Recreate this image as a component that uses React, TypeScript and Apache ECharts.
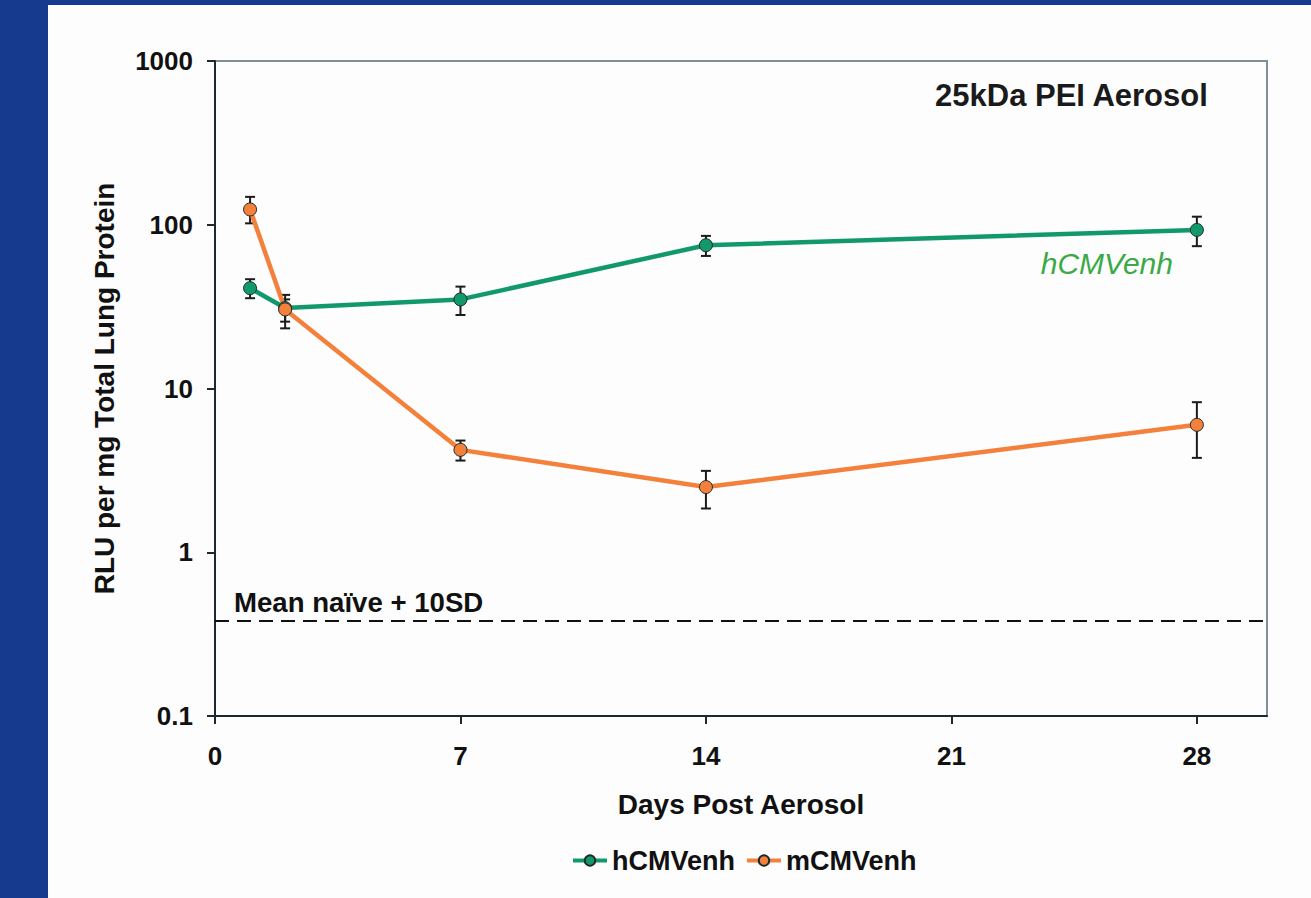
import React, { useEffect, useRef } from "react";
import * as echarts from "echarts";

const days = [1, 2, 7, 14, 28];
const hMean = [41, 31, 35, 75, 93];
const hLow = [35.6, 25.6, 28.1, 64.5, 74];
const hHigh = [46.5, 35, 41.9, 85.5, 112];
const mMean = [124, 30.4, 4.22, 2.5, 6.0];
const mLow = [102, 23.3, 3.63, 1.85, 3.77];
const mHigh = [148, 37.3, 4.81, 3.14, 8.25];
const xTicks = [0, 7, 14, 21, 28];
const yTicks = [0.1, 1, 10, 100, 1000];
const threshold = 0.38;
const seriesNames = ["hCMVenh", "mCMVenh"];

const FONT = "'Liberation Sans', Arial, Helvetica, sans-serif";
const GREEN = "#11996c";
const ORANGE = "#f3813c";
const BLUE = "#163a8d";

export default function App() {
  const ref = useRef<HTMLDivElement>(null);
  useEffect(() => {
    if (!ref.current) return;
    const chart = echarts.init(ref.current, undefined, { renderer: "svg" });
    const errData = (lo: number[], hi: number[]) => days.map((d, i) => [d, lo[i], hi[i]]);
    const errSeries = (name: string, lo: number[], hi: number[]) => ({
      type: "custom",
      name: name + "-err",
      data: errData(lo, hi),
      encode: { x: 0, y: [1, 2] },
      z: 3,
      silent: true,
      renderItem: (params: any, api: any) => {
        const x = api.value(0);
        const p1 = api.coord([x, api.value(1)]);
        const p2 = api.coord([x, api.value(2)]);
        const w = 5;
        const style = { stroke: "#1b1b1b", lineWidth: 2 };
        return {
          type: "group",
          children: [
            { type: "line", shape: { x1: p1[0], y1: p1[1], x2: p2[0], y2: p2[1] }, style },
            { type: "line", shape: { x1: p1[0] - w, y1: p1[1], x2: p1[0] + w, y2: p1[1] }, style },
            { type: "line", shape: { x1: p2[0] - w, y1: p2[1], x2: p2[0] + w, y2: p2[1] }, style },
          ],
        };
      },
    });
    const lineSeries = (name: string, mean: number[], color: string) => ({
      type: "line",
      name,
      data: days.map((d, i) => [d, mean[i]]),
      z: 4,
      symbol: "circle",
      symbolSize: 13,
      lineStyle: { color, width: 4.5 },
      itemStyle: { color, borderColor: "#1e2a2a", borderWidth: 1 },
    });
    chart.setOption({
      animation: false,
      backgroundColor: "#fdfdfe",
      grid: {
        left: 215,
        right: 44,
        top: 61,
        bottom: 182,
        show: true,
        borderColor: "#7d8f98",
        borderWidth: 2,
        backgroundColor: "transparent",
      },
      legend: {
        data: seriesNames,
        top: 842,
        left: 566,
        itemWidth: 34,
        itemHeight: 13,
        itemGap: 10,
        lineStyle: { width: 4 },
        textStyle: { fontFamily: FONT, fontWeight: "bold", fontSize: 27, color: "#111" },
      },
      xAxis: {
        type: "value",
        min: 0,
        max: 30,
        interval: 7,
        name: "Days Post Aerosol",
        nameLocation: "middle",
        nameGap: 74,
        nameTextStyle: { fontFamily: FONT, fontWeight: "bold", fontSize: 28, color: "#111" },
        axisLine: { lineStyle: { color: "#1c2a30", width: 2 } },
        axisTick: { show: true, length: 8, lineStyle: { color: "#1c2a30", width: 2 }, customValues: xTicks },
        axisLabel: {
          customValues: xTicks,
          margin: 27,
          fontFamily: FONT,
          fontWeight: "bold",
          fontSize: 26,
          color: "#111",
        },
        splitLine: { show: false },
      },
      yAxis: {
        type: "log",
        logBase: 10,
        min: 0.1,
        max: 1000,
        name: "RLU per mg Total Lung Protein",
        nameLocation: "middle",
        nameGap: 97,
        nameTextStyle: { fontFamily: FONT, fontWeight: "bold", fontSize: 28, color: "#111" },
        axisLine: { show: true, lineStyle: { color: "#1c2a30", width: 2 } },
        axisTick: { show: true, length: 8, lineStyle: { color: "#1c2a30", width: 2 } },
        axisLabel: {
          margin: 22,
          fontFamily: FONT,
          fontWeight: "bold",
          fontSize: 26,
          color: "#111",
          formatter: (v: number) => {
            const t = yTicks.find((y) => Math.abs(Math.log10(y) - Math.log10(v)) < 1e-6);
            return t === undefined ? "" : String(t);
          },
        },
        splitLine: { show: false },
      },
      graphic: [
        { type: "rect", shape: { x: 0, y: 0, width: 48, height: 898 }, style: { fill: BLUE }, z: 100 },
        { type: "rect", shape: { x: 0, y: 0, width: 1311, height: 5 }, style: { fill: BLUE }, z: 100 },
        {
          type: "text",
          right: 1311 - 1209,
          top: 80,
          style: { text: "25kDa PEI Aerosol", font: `bold 31px ${FONT}`, fill: "#1a1a1a" },
        },
        {
          type: "text",
          x: 1173,
          y: 263,
          style: {
            text: "hCMVenh",
            font: `italic 30px ${FONT}`,
            fill: "#3aaa46",
            textAlign: "right",
            textVerticalAlign: "middle",
          },
        },
        {
          type: "text",
          x: 234,
          y: 602,
          style: {
            text: "Mean naïve + 10SD",
            font: `bold 27.6px ${FONT}`,
            fill: "#111",
            textAlign: "left",
            textVerticalAlign: "middle",
          },
        },
      ],
      series: [
        errSeries("hCMVenh", hLow, hHigh),
        errSeries("mCMVenh", mLow, mHigh),
        {
          ...lineSeries("hCMVenh", hMean, GREEN),
          markLine: {
            silent: true,
            symbol: "none",
            label: { show: false },
            lineStyle: { color: "#111", width: 2, type: [14, 8] },
            data: [{ yAxis: threshold }],
          },
        },
        lineSeries("mCMVenh", mMean, ORANGE),
      ],
    });
    return () => chart.dispose();
  }, []);
  return (
    <div
      ref={ref}
      style={{ position: "fixed", left: 0, top: 0, width: 1311, height: 898 }}
    />
  );
}
